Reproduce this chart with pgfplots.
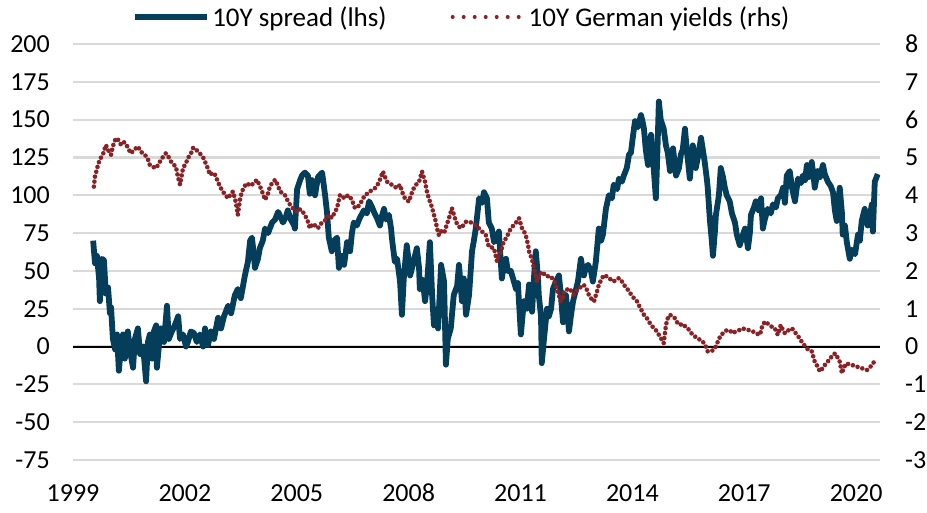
\documentclass[border=0pt]{standalone}
\usepackage{fontspec}
\setmainfont{Carlito}
\usepackage{pgfplots}
\pgfplotsset{compat=1.18}

\definecolor{spreadblue}{RGB}{4,62,90}
\definecolor{bundred}{RGB}{138,33,36}
\definecolor{gridgray}{RGB}{217,217,217}

\pgfplotstableread{
t v
1999.54 70
1999.59 55
1999.64 60
1999.70 45
1999.72 30
1999.78 58
1999.83 57
1999.88 35
1999.94 39
1999.99 22
2000.02 26
2000.07 5
2000.13 -2
2000.18 8
2000.23 -16
2000.29 0
2000.34 8
2000.39 -8
2000.47 10
2000.53 -3
2000.61 -14
2000.66 5
2000.74 12
2000.80 -5
2000.88 0
2000.96 -23
2001.01 3
2001.06 8
2001.12 -8
2001.17 10
2001.23 14
2001.25 -14
2001.31 2
2001.36 12
2001.44 3
2001.52 27
2001.57 5
2001.65 10
2001.73 14
2001.82 20
2001.87 5
2001.95 8
2002.03 0
2002.08 3
2002.16 10
2002.24 9
2002.32 3
2002.40 8
2002.49 0
2002.54 12
2002.62 1
2002.70 10
2002.78 5
2002.89 19
2002.97 12
2003.05 20
2003.16 27
2003.24 22
2003.34 34
2003.42 38
2003.50 32
2003.61 47
2003.69 56
2003.75 70
2003.80 72
2003.85 60
2003.88 52
2003.96 58
2004.01 65
2004.09 70
2004.15 78
2004.23 75
2004.34 82
2004.42 84
2004.50 89
2004.58 85
2004.63 82
2004.71 86
2004.76 90
2004.84 84
2004.93 80
2004.95 78
2005.01 104
2005.09 110
2005.14 113
2005.22 115
2005.30 113
2005.35 101
2005.41 110
2005.49 100
2005.57 112
2005.68 115
2005.76 100
2005.81 89
2005.86 72
2005.94 63
2006.00 70
2006.08 72
2006.13 52
2006.19 60
2006.27 54
2006.35 69
2006.43 63
2006.48 75
2006.53 82
2006.61 80
2006.69 85
2006.80 90
2006.88 88
2006.94 96
2007.02 92
2007.07 89
2007.15 85
2007.23 80
2007.28 86
2007.34 91
2007.39 84
2007.47 87
2007.53 78
2007.55 72
2007.63 56
2007.69 58
2007.77 43
2007.82 21
2007.87 45
2007.95 67
2008.01 55
2008.04 47
2008.12 55
2008.17 60
2008.22 65
2008.28 52
2008.30 38
2008.38 44
2008.44 30
2008.49 40
2008.57 69
2008.63 34
2008.68 14
2008.73 20
2008.79 12
2008.87 54
2008.95 43
2009.00 -12
2009.05 5
2009.13 12
2009.21 34
2009.30 40
2009.35 54
2009.43 30
2009.48 45
2009.54 21
2009.62 34
2009.70 63
2009.75 70
2009.80 78
2009.89 98
2009.97 95
2010.02 102
2010.10 98
2010.15 82
2010.23 78
2010.29 69
2010.37 72
2010.42 76
2010.50 45
2010.56 55
2010.61 58
2010.66 50
2010.74 50
2010.80 45
2010.88 38
2010.93 42
2011.01 8
2011.09 30
2011.17 25
2011.23 41
2011.28 30
2011.31 23
2011.36 45
2011.41 63
2011.47 45
2011.49 34
2011.55 20
2011.57 -11
2011.63 5
2011.71 25
2011.76 20
2011.82 25
2011.87 38
2011.95 43
2012.03 47
2012.08 35
2012.14 16
2012.22 34
2012.30 10
2012.35 20
2012.41 30
2012.49 38
2012.54 43
2012.62 58
2012.67 50
2012.70 47
2012.75 52
2012.81 54
2012.89 50
2012.94 43
2013.02 56
2013.10 78
2013.16 70
2013.21 74
2013.29 91
2013.37 100
2013.45 98
2013.50 107
2013.59 104
2013.64 111
2013.72 109
2013.77 113
2013.85 118
2013.91 127
2013.96 128
2014.01 138
2014.07 149
2014.15 145
2014.23 153
2014.28 148
2014.31 144
2014.36 130
2014.42 120
2014.47 135
2014.50 140
2014.55 125
2014.63 98
2014.66 120
2014.71 162
2014.76 150
2014.84 144
2014.90 133
2014.95 128
2015.01 116
2015.03 125
2015.09 131
2015.14 120
2015.17 113
2015.25 118
2015.30 127
2015.35 130
2015.41 144
2015.46 130
2015.54 111
2015.62 133
2015.68 125
2015.70 118
2015.78 128
2015.84 138
2015.89 130
2015.94 122
2016.00 110
2016.02 105
2016.08 83
2016.13 70
2016.16 60
2016.21 75
2016.24 87
2016.32 100
2016.37 118
2016.43 112
2016.48 105
2016.53 100
2016.61 96
2016.67 88
2016.75 82
2016.80 74
2016.88 67
2016.94 72
2017.02 78
2017.07 70
2017.10 65
2017.15 75
2017.18 87
2017.26 92
2017.31 96
2017.39 90
2017.45 98
2017.50 78
2017.55 84
2017.63 91
2017.71 88
2017.77 94
2017.85 92
2017.90 98
2017.98 100
2018.04 105
2018.09 95
2018.14 113
2018.22 116
2018.28 105
2018.36 96
2018.44 111
2018.52 108
2018.57 113
2018.63 110
2018.68 120
2018.73 112
2018.81 122
2018.87 110
2018.89 105
2018.97 116
2019.03 112
2019.11 120
2019.16 114
2019.24 109
2019.32 106
2019.38 102
2019.43 90
2019.48 83
2019.56 105
2019.62 88
2019.64 74
2019.70 80
2019.75 69
2019.83 58
2019.89 64
2019.97 61
2020.05 74
2020.10 70
2020.15 83
2020.23 91
2020.31 80
2020.37 86
2020.42 94
2020.45 76
2020.50 109
2020.58 114
}\spreadtable

\pgfplotstableread{
t r
1999.56 4.23
1999.59 4.50
1999.67 4.80
1999.72 4.95
1999.80 5.07
1999.88 5.33
1999.94 5.20
2000.02 5.07
2000.07 5.30
2000.15 5.51
2000.23 5.45
2000.29 5.33
2000.37 5.40
2000.42 5.36
2000.50 5.20
2000.55 5.11
2000.64 5.20
2000.74 5.29
2000.82 5.15
2000.93 5.07
2001.01 4.95
2001.06 4.80
2001.14 4.75
2001.23 4.72
2001.31 4.85
2001.36 4.94
2001.44 5.05
2001.49 5.11
2001.57 5.00
2001.63 4.89
2001.71 4.80
2001.76 4.76
2001.81 4.50
2001.87 4.28
2001.95 4.72
2002.03 4.85
2002.08 4.98
2002.16 5.10
2002.22 5.25
2002.27 5.25
2002.35 5.15
2002.40 5.11
2002.49 5.00
2002.54 4.89
2002.62 4.70
2002.67 4.54
2002.75 4.60
2002.81 4.54
2002.89 4.35
2002.94 4.23
2003.02 4.10
2003.08 4.01
2003.16 3.92
2003.24 4.05
2003.29 4.10
2003.37 3.80
2003.42 3.48
2003.48 3.90
2003.53 4.10
2003.61 4.25
2003.66 4.32
2003.75 4.25
2003.80 4.28
2003.88 4.35
2003.93 4.41
2004.01 4.25
2004.07 4.10
2004.15 3.88
2004.23 4.05
2004.28 4.23
2004.36 4.35
2004.42 4.41
2004.50 4.25
2004.55 4.10
2004.63 4.05
2004.68 4.01
2004.76 3.85
2004.82 3.75
2004.90 3.65
2004.95 3.61
2005.03 3.55
2005.09 3.63
2005.17 3.55
2005.22 3.48
2005.30 3.30
2005.35 3.13
2005.43 3.25
2005.49 3.20
2005.57 3.13
2005.65 3.25
2005.73 3.30
2005.81 3.40
2005.86 3.48
2005.94 3.40
2006.02 3.55
2006.08 3.66
2006.16 4.01
2006.24 3.95
2006.29 3.92
2006.37 4.00
2006.43 3.96
2006.51 3.80
2006.56 3.66
2006.64 3.70
2006.69 3.75
2006.77 3.90
2006.83 4.01
2006.91 4.05
2006.96 4.10
2007.04 4.15
2007.10 4.19
2007.18 4.30
2007.23 4.41
2007.31 4.63
2007.36 4.50
2007.42 4.36
2007.50 4.30
2007.55 4.28
2007.63 4.22
2007.69 4.19
2007.77 4.28
2007.82 4.10
2007.90 3.92
2007.95 3.88
2008.01 3.83
2008.06 4.00
2008.14 4.19
2008.20 4.28
2008.28 4.36
2008.36 4.63
2008.41 4.45
2008.44 4.36
2008.49 4.10
2008.54 3.92
2008.62 3.70
2008.68 3.48
2008.73 3.30
2008.76 3.13
2008.81 2.95
2008.87 3.05
2008.95 3.00
2009.00 3.15
2009.08 3.39
2009.16 3.66
2009.21 3.50
2009.27 3.30
2009.32 3.20
2009.40 3.13
2009.46 3.20
2009.54 3.30
2009.62 3.30
2009.70 3.27
2009.80 3.20
2009.88 3.13
2009.96 3.05
2010.07 2.95
2010.15 2.64
2010.23 2.62
2010.29 2.60
2010.37 2.25
2010.42 2.40
2010.47 2.49
2010.55 2.78
2010.64 2.90
2010.69 3.04
2010.77 3.15
2010.82 3.22
2010.90 3.30
2010.96 3.39
2011.04 3.13
2011.09 3.05
2011.14 2.95
2011.20 2.70
2011.23 2.51
2011.31 2.30
2011.36 2.07
2011.41 1.90
2011.44 1.72
2011.52 1.90
2011.57 1.98
2011.65 1.90
2011.71 1.85
2011.76 1.87
2011.81 1.85
2011.90 1.75
2011.95 1.63
2012.00 1.45
2012.08 1.19
2012.14 1.30
2012.16 1.45
2012.24 1.50
2012.30 1.54
2012.38 1.45
2012.43 1.37
2012.51 1.48
2012.57 1.54
2012.65 1.60
2012.70 1.63
2012.78 1.50
2012.83 1.37
2012.91 1.25
2012.97 1.19
2013.05 1.45
2013.10 1.63
2013.18 1.80
2013.24 1.89
2013.32 1.85
2013.37 1.81
2013.45 1.75
2013.50 1.72
2013.58 1.78
2013.64 1.81
2013.72 1.72
2013.77 1.63
2013.85 1.55
2013.91 1.45
2013.99 1.35
2014.04 1.28
2014.12 1.20
2014.17 1.10
2014.25 0.95
2014.31 0.84
2014.39 0.75
2014.44 0.66
2014.52 0.55
2014.58 0.48
2014.66 0.40
2014.71 0.31
2014.79 0.18
2014.84 0.09
2014.90 0.57
2014.95 0.75
2015.01 0.84
2015.06 0.80
2015.14 0.75
2015.19 0.65
2015.27 0.57
2015.35 0.60
2015.43 0.52
2015.49 0.48
2015.54 0.40
2015.62 0.31
2015.70 0.25
2015.76 0.22
2015.84 0.15
2015.89 0.13
2015.97 0.00
2016.02 -0.13
2016.10 -0.12
2016.16 -0.10
2016.24 0.00
2016.29 0.13
2016.37 0.30
2016.43 0.35
2016.51 0.42
2016.56 0.44
2016.64 0.40
2016.69 0.35
2016.77 0.40
2016.91 0.45
2016.96 0.48
2017.04 0.45
2017.10 0.44
2017.18 0.42
2017.23 0.40
2017.31 0.35
2017.42 0.31
2017.47 0.50
2017.55 0.66
2017.61 0.62
2017.69 0.57
2017.74 0.52
2017.82 0.48
2017.90 0.31
2017.98 0.57
2018.03 0.45
2018.09 0.35
2018.17 0.42
2018.28 0.48
2018.33 0.42
2018.41 0.31
2018.46 0.25
2018.54 0.13
2018.60 0.05
2018.68 -0.05
2018.73 -0.10
2018.81 -0.13
2018.89 -0.40
2018.95 -0.50
2019.03 -0.66
2019.08 -0.60
2019.16 -0.49
2019.24 -0.40
2019.29 -0.31
2019.38 -0.25
2019.43 -0.18
2019.51 -0.30
2019.56 -0.40
2019.62 -0.71
2019.67 -0.55
2019.75 -0.44
2019.80 -0.47
2019.88 -0.49
2019.94 -0.50
2020.02 -0.53
2020.07 -0.55
2020.15 -0.57
2020.21 -0.60
2020.29 -0.62
2020.34 -0.58
2020.42 -0.49
2020.47 -0.42
2020.55 -0.35
}\bundtable

\begin{document}
\begin{tikzpicture}
\pgfplotsset{
  every axis/.append style={
    scale only axis,
    width=807pt, height=416pt,
    xmin=1999, xmax=2020.64,
    axis line style={draw=none},
    major tick length=0pt,
    tick label style={font=\fontsize{26}{30}\selectfont, inner sep=0pt, text=black},
    /pgf/number format/assume math mode=true,
  },
}
\begin{axis}[
  ymin=-75, ymax=200,
  ytick={-75,-50,...,200},
  xtick={1999,2002,2005,2008,2011,2014,2017,2020},
  x tick label style={/pgf/number format/1000 sep={}, yshift=-24pt},
  y tick label style={xshift=-23pt},
  ymajorgrids,
  grid style={gridgray, line width=2.2pt},
  legend columns=2,
  legend style={at={(0.482,1)}, anchor=center, yshift=27pt, draw=none, fill=none,
    font=\fontsize{27}{30}\selectfont, nodes={inner xsep=2pt, inner ysep=0pt},
    /tikz/every even column/.append style={column sep=62pt}},
  legend image code/.code={\draw[#1] (0pt,0pt) -- (72pt,0pt);},
]
\addplot[black, line width=2pt, forget plot] coordinates {(1999,0) (2020.64,0)};
\addplot[spreadblue, line width=5.8pt, line join=round] table[x=t, y=v] {\spreadtable};
\addlegendentry{10Y spread (lhs)}
\addlegendimage{bundred, line width=4pt, line cap=round, dash pattern=on 0pt off 11pt}
\addlegendentry{10Y German yields (rhs)}
\end{axis}
\begin{axis}[
  ymin=-3, ymax=8,
  ytick={-3,-2,...,8},
  axis y line*=right,
  axis x line=none,
  y tick label style={anchor=west, xshift=25pt},
]
\addplot[bundred, line width=4.6pt, line cap=round, dash pattern=on 0pt off 5pt] table[x=t, y=r] {\bundtable};
\end{axis}
\pgfresetboundingbox
\path[use as bounding box] (-73pt,-53pt) rectangle (854pt,460pt);
\end{tikzpicture}
\end{document}
